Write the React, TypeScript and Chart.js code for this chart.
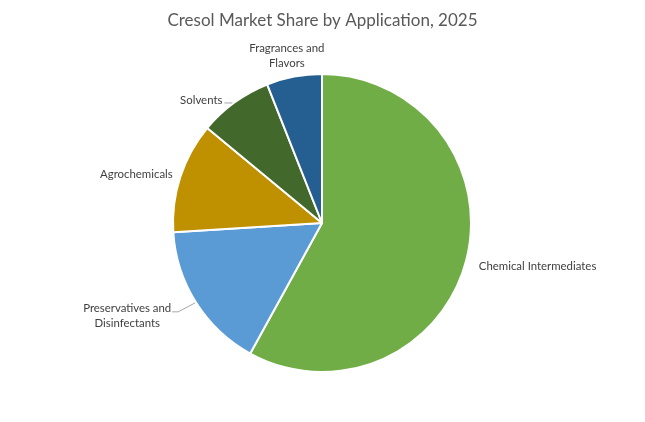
import React, { useEffect, useRef } from "react";
import { Chart, registerables } from "chart.js";

Chart.register(...registerables);

const TITLE = "Cresol Market Share by Application, 2025";
const categories = [
  "Chemical Intermediates",
  "Preservatives and Disinfectants",
  "Agrochemicals",
  "Solvents",
  "Fragrances and Flavors",
];
const labelLines = [
  ["Chemical Intermediates"],
  ["Preservatives and", "Disinfectants"],
  ["Agrochemicals"],
  ["Solvents"],
  ["Fragrances and", "Flavors"],
];
const shares = [58, 16, 12, 8, 6];
const colors = ["#70AD47", "#5B9BD5", "#BF9000", "#43682B", "#255E91"];

const FONT = "Lato, 'Open Sans', sans-serif";

const labelPlugin = {
  id: "outLabels",
  afterDraw(chart: any) {
    const ctx = chart.ctx as CanvasRenderingContext2D;
    ctx.save();
    ctx.fillStyle = "#595959";
    ctx.font = `17px ${FONT}`;
    ctx.textAlign = "center";
    ctx.textBaseline = "middle";
    ctx.fillText(TITLE, chart.width / 2, 21);

    const meta = chart.getDatasetMeta(0);
    ctx.font = `11.4px ${FONT}`;
    ctx.fillStyle = "#404040";
    const lh = 15;
    meta.data.forEach((arc: any, i: number) => {
      const { x, y, startAngle, endAngle, outerRadius } = arc.getProps(
        ["x", "y", "startAngle", "endAngle", "outerRadius"],
        true
      );
      const mid = (startAngle + endAngle) / 2;
      const cx = Math.cos(mid);
      const cy = Math.sin(mid);
      const lines = labelLines[i];
      const ex = x + cx * outerRadius;
      const ey = y + cy * outerRadius;
      ctx.textBaseline = "middle";
      if (i === 0) {
        const d = outerRadius + 15;
        ctx.textAlign = "left";
        ctx.fillText(lines[0], x + cx * d - 2, y + cy * d + 3);
      } else if (i === 1) {
        const lx = ex - 18;
        const ly = ey + 9;
        ctx.strokeStyle = "#A6A6A6";
        ctx.lineWidth = 1;
        ctx.beginPath();
        ctx.moveTo(ex - 1, ey);
        ctx.lineTo(lx, ly);
        ctx.lineTo(lx - 6, ly);
        ctx.stroke();
        ctx.textAlign = "center";
        const tcx = lx - 6 - 2 - 43;
        ctx.fillText(lines[0], tcx, ly - 4);
        ctx.fillText(lines[1], tcx, ly - 4 + lh);
      } else if (i === 2) {
        const d = outerRadius + 8;
        ctx.textAlign = "right";
        ctx.fillText(lines[0], x + cx * d, y + cy * d);
      } else if (i === 3) {
        ctx.strokeStyle = "#A6A6A6";
        ctx.lineWidth = 1;
        ctx.beginPath();
        ctx.moveTo(ex - 2, ey + 0.5);
        ctx.lineTo(ex - 10, ey + 0.5);
        ctx.stroke();
        ctx.textAlign = "right";
        ctx.fillText(lines[0], ex - 12, ey - 2);
      } else {
        const d = outerRadius + 12;
        ctx.textAlign = "center";
        const tx = x + cx * d - 5;
        const ty = y + cy * d;
        ctx.fillText(lines[0], tx, ty - lh - 2);
        ctx.fillText(lines[1], tx, ty - 2);
      }
    });
    ctx.restore();
  },
};

export default function App() {
  const ref = useRef<HTMLCanvasElement>(null);
  useEffect(() => {
    document.body.style.margin = "0";
    const chart = new Chart(ref.current!, {
      type: "pie",
      data: {
        labels: categories,
        datasets: [
          {
            data: shares,
            backgroundColor: colors,
            borderColor: "#FFFFFF",
            borderWidth: 2,
            radius: 149,
          },
        ],
      },
      options: {
        animation: false,
        responsive: false,
        layout: { padding: { top: 74, bottom: 50, left: 0, right: 1 } },
        plugins: {
          legend: { display: false },
          title: { display: false },
          tooltip: { enabled: false },
        },
      },
      plugins: [labelPlugin],
    });
    return () => chart.destroy();
  }, []);
  return (
    <div style={{ width: 645, height: 422, background: "#fff" }}>
      <canvas ref={ref} width={645} height={422} />
    </div>
  );
}
